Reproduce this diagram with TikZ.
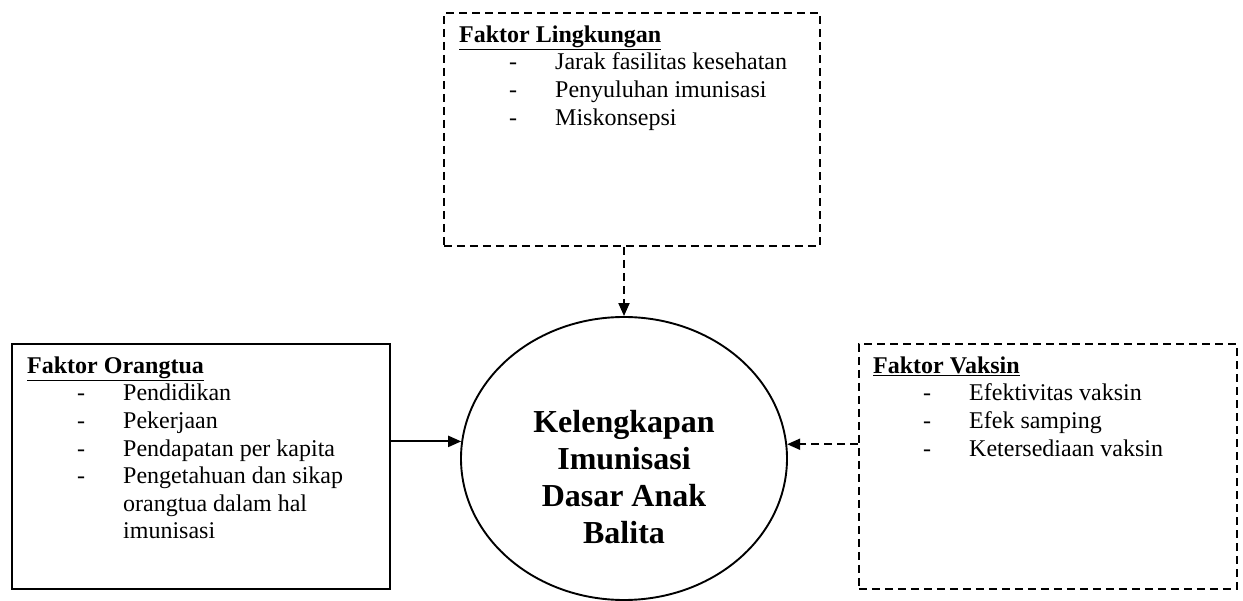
\documentclass[tikz,border=0pt]{standalone}
\usepackage{fontspec}
\setmainfont{Liberation Serif}
\usetikzlibrary{arrows.meta, positioning, shapes.geometric}
\newcommand{\itm}[1]{\hspace*{50pt}\makebox[46pt][l]{-}#1}
\newcommand{\cont}[1]{\hspace*{96pt}#1}
\newcommand{\judul}[1]{\strut\underline{\textbf{#1}}}
\begin{document}
\begin{tikzpicture}[x=1pt, y=-1pt,
        box/.style={draw, line width=1.9pt, minimum width=378pt, minimum height=245pt, anchor=north west, inner sep=0pt},
        dbox/.style={box, dash pattern=on 8pt off 5pt},
        isi/.style={anchor=north west, align=left, inner sep=0pt, font=\fontsize{24}{27.6}\selectfont},
        arr/.style={-{Triangle[length=13pt, width=11pt]}, line width=1.9pt},
        darr/.style={arr, dash pattern=on 8pt off 5pt}
      ]
        \useasboundingbox (0,0) rectangle (1243,601);
        % kotak faktor
        \node[dbox, minimum width=376pt, minimum height=233pt] (lingk) at (443,12) {};
        \node[box] (ortu) at (11,343) {};
        \node[dbox] (vaksin) at (858,343) {};
        \node[isi, xshift=16pt, yshift=-10.7pt] (lingktxt) at (lingk.north west)
          {\judul{Faktor Lingkungan}\\ \itm{Jarak fasilitas kesehatan}\\ \itm{Penyuluhan imunisasi}\\ \itm{Miskonsepsi}};
        \node[isi, xshift=16pt, yshift=-10.7pt] (ortutxt) at (ortu.north west)
          {\judul{Faktor Orangtua}\\ \itm{Pendidikan}\\ \itm{Pekerjaan}\\ \itm{Pendapatan per kapita}\\ \itm{Pengetahuan dan sikap}\\ \cont{orangtua dalam hal}\\ \cont{imunisasi}};
        \node[isi, xshift=15pt, yshift=-10.7pt] (vaksintxt) at (vaksin.north west)
          {\judul{Faktor Vaksin}\\ \itm{Efektivitas vaksin}\\ \itm{Efek samping}\\ \itm{Ketersediaan vaksin}};
        % lingkaran tengah
        \node[ellipse, draw, line width=1.9pt, minimum width=326pt, minimum height=283pt, inner sep=0pt] (imun) at (624,458.5) {};
        \node[anchor=north, yshift=52.5pt, inner sep=0pt, align=center, font=\fontsize{32}{37}\selectfont\bfseries] (imuntxt) at (imun.center)
          {\strut Kelengkapan\\ Imunisasi\\ Dasar Anak\\ Balita};
        % panah
        \draw[darr] (lingk.south -| imun.north) -- (imun.north);
        \draw[arr] (ortu.east |- imun.174.5) -- (imun.174.5);
        \draw[darr] (vaksin.west |- imun.5.5) -- (imun.5.5);
      \end{tikzpicture}
\end{document}
